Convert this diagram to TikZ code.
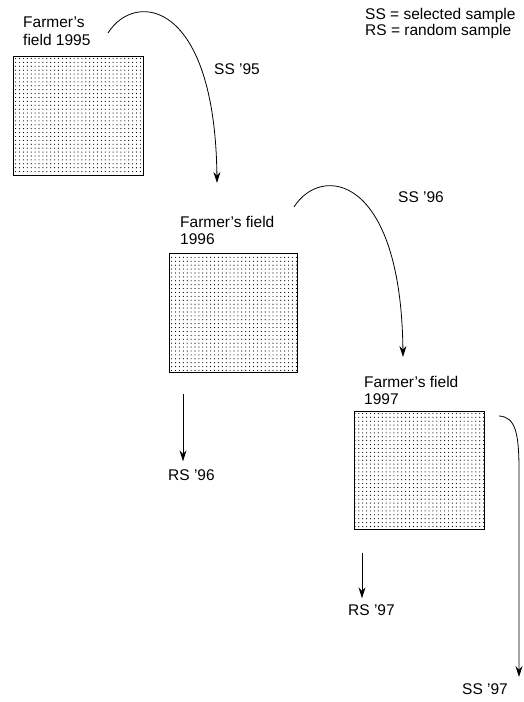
\documentclass[tikz,border=0pt]{standalone}
\usepackage{fontspec}
\setmainfont{Liberation Sans}
\usetikzlibrary{
  arrows.meta,
  positioning,
  calc,
  patterns.meta
}
\tikzset{
  field/.style={
    draw=black,
    line width=1.1pt,
    pattern={Dots[distance=3.9pt,radius=0.6pt]},
    pattern color=black,
    minimum width=130pt,
    minimum height=119pt,
    anchor=north west,
    inner sep=0pt
  },
  fieldlabel/.style={
    align=left,
    anchor=north west,
    inner sep=0pt,
    font=\fontsize{15.5}{17.5}\selectfont
  },
  samplelabel/.style={
    anchor=west,
    inner sep=0pt,
    font=\fontsize{15.5}{17.5}\selectfont
  },
  ssarc/.style={
    -{Stealth[length=11pt,width=7pt]},
    line width=0.8pt
  },
  rsarrow/.style={
    -{Stealth[length=11pt,width=7pt]},
    line width=0.9pt
  }
}

\begin{document}
\begin{tikzpicture}[x=1pt,y=-1pt]
  \useasboundingbox (0,0) rectangle (523,702);

  % fields
  \node[field] (f95) at (13,56) {};
  \node[field, minimum width=128pt] (f96) at (169,253) {};
  \node[field, minimum height=118pt] (f97) at (354,411) {};

  \node[fieldlabel] (lab95) at (23,17) {Farmer's\\field 1995};
  \node[fieldlabel] (lab96) at (180,216) {Farmer's field\\1996};
  \node[fieldlabel] (lab97) at (364,376) {Farmer's field\\1997};

  % samples
  \node[samplelabel] (ss95) at (214,69) {SS '95};
  \node[samplelabel] (ss96) at (398,197) {SS '96};
  \node[samplelabel] (ss97) at (462,689) {SS '97};
  \node[samplelabel] (rs96) at (168,475) {RS '96};
  \node[samplelabel] (rs97) at (348,610) {RS '97};

  \node[fieldlabel, font=\fontsize{15.5}{16.5}\selectfont] (legend) at (365,8)
    {SS = selected sample\\RS = random sample};

  % selected sample carried to next year
  \coordinate (ss95from) at (108,33);
  \coordinate (ss95to) at (217,183);
  \coordinate (ss96from) at (294,207);
  \coordinate (ss96to) at (403,357);
  \coordinate (ss97from) at ($(f97.north east)+(14,5)$);
  \coordinate (ss97bend) at (519,470);
  \coordinate (ss97to) at (519,677);

  \draw[ssarc] (ss95from) .. controls +(27,-43) and +(-2,-183) .. (ss95to);
  \draw[ssarc] (ss96from) .. controls +(27,-43) and +(-2,-183) .. (ss96to);
  \draw[ssarc] (ss97from) .. controls +(16,1) and +(0,-38) .. (ss97bend) -- (ss97to);

  % random samples
  \draw[rsarrow] ($(rs96.north west)+(15,-75)$) -- ($(rs96.north west)+(15,-8)$);
  \draw[rsarrow] ($(rs97.north west)+(14,-51)$) -- ($(rs97.north west)+(14,-6)$);
\end{tikzpicture}
\end{document}
